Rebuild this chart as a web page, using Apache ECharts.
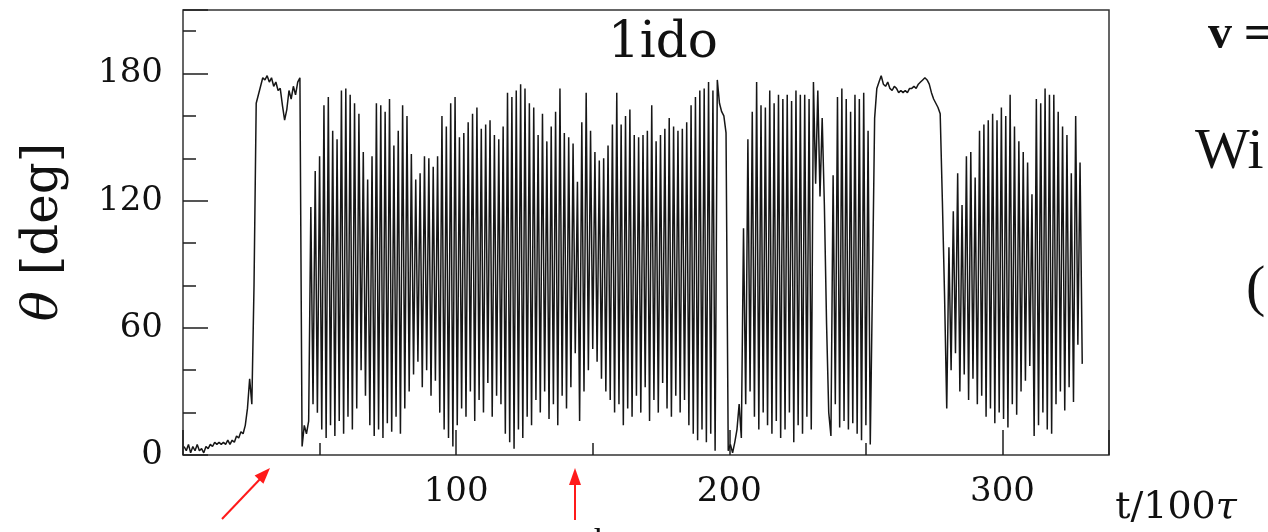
<!DOCTYPE html>
<html>
<head>
<meta charset="utf-8">
<script src="https://cdn.jsdelivr.net/npm/echarts@6/dist/echarts.min.js"></script>
<style>
  html, body { margin: 0; padding: 0; background: #fff; }
  #chart { width: 1268px; height: 532px; }
</style>
</head>
<body>
<div id="chart"></div>
<script>
// theta(t), sampled every tStep (t in units of 100 tau)
var tStart = 0.4;
var tStep = 0.8;

// baseline, rise, first plateau, drop (t 0.4 - 46.0)
var thetaLeadIn = [
  4, 2, 5, 1, 4, 2, 5, 2, 3, 1,
  4, 3, 5, 4, 6, 5, 6, 5, 6, 5,
  7, 5, 7, 6, 9, 8, 11,
  10, 14, 22, 36, 24,
  80, 166, 170, 174, 178, 177, 179, 176, 178, 174,
  176, 172, 173, 165, 158, 163, 172, 168, 174, 170,
  176, 178,
  4, 14, 10, 16
];
// t 46.8 - 115.6
var thetaOsc1 = [
  117, 24, 134, 20, 141, 12, 165, 8, 169, 14,
  153, 9, 149, 16, 172, 10, 173, 18, 170, 12,
  166, 22, 161, 40, 143, 28, 130, 14, 141, 9,
  166, 12, 165, 8, 162, 15, 168, 11, 146, 18,
  153, 10, 165, 22, 160, 30, 142, 38, 130, 44,
  133, 32, 141, 40, 140, 28, 136, 35, 141, 20,
  160, 12, 155, 8, 166, 4, 169, 14, 150, 22,
  152, 18, 157, 30, 161, 16, 164, 26, 154, 20,
  156, 34, 158, 18, 151, 28, 149
];
// t 116.4 - 189.2
var thetaOsc2 = [
  24, 155, 10, 171, 6, 169, 3, 172, 12, 175,
  8, 173, 18, 166, 14, 164, 26, 151, 20, 161,
  30, 148, 17, 155, 24, 162, 14, 173, 28, 152,
  22, 150, 32, 147, 48, 129, 16, 157, 30, 171,
  40, 153, 50, 143, 44, 139, 36, 140, 30, 146,
  26, 156, 20, 171, 24, 156, 14, 160, 22, 163,
  18, 151, 28, 150, 20, 151, 32, 153, 16, 165,
  26, 148, 20, 151, 34, 154, 22, 159, 18, 155,
  28, 153, 20, 154, 26, 157, 14, 165, 10, 169,
  7, 172
];
// t 190.0 - 252.4
var thetaOsc3 = [
  12, 173, 6, 176, 10, 172, 2, 177, 166, 162,
  160, 152, 2, 5, 1, 6, 12, 24, 8, 107,
  24, 149, 30, 162, 18, 176, 12, 165, 20, 164,
  14, 172, 10, 166, 16, 170, 8, 168, 12, 170,
  20, 167, 6, 172, 14, 170, 10, 170, 18, 168,
  12, 176, 128, 172, 122, 159, 118, 62, 20, 9,
  132, 24, 169, 13, 173, 16, 168, 12, 162, 15,
  170, 10, 168, 7, 171, 14, 153, 5, 80
];
// second plateau and last burst (t 253.2 - 329.2)
var thetaOsc4 = [
  159, 173, 176, 179, 175, 174, 176, 173, 172, 174,
  173, 171, 172, 171, 172, 171, 173, 173, 174, 173,
  175, 176, 177, 178, 177, 175, 171, 168, 166, 164,
  161, 120, 75, 22, 98, 40, 115, 48, 133, 30,
  118, 38, 141, 26, 143, 36, 131, 24, 153, 28,
  156, 18, 158, 22, 161, 15, 158, 20, 164, 17,
  160, 13, 170, 24, 155, 19, 148, 30, 143, 35,
  138, 42, 123, 9, 168, 14, 166, 20, 173, 12,
  170, 10, 170, 24, 162, 30, 155, 21, 151, 32,
  133, 25, 160, 52, 138, 43
];

var xLabels = [100, 200, 300];
var yLabels = [0, 60, 120, 180];

var theta = [].concat(thetaLeadIn, thetaOsc1, thetaOsc2, thetaOsc3, thetaOsc4);
var points = theta.map(function (v, i) {
  return [+(tStart + i * tStep).toFixed(1), v];
});

var ink = '#1e1e1e';
var numFont = { fontFamily: 'DejaVu Serif', fontSize: 34, color: '#111' };

var option = {
  animation: false,
  backgroundColor: '#fff',
  grid: {
    left: 183, right: 159, top: 10, bottom: 77,
    show: true, borderColor: '#333', borderWidth: 1.5, backgroundColor: 'transparent'
  },
  xAxis: [
    {
      type: 'value', min: 0, max: 339, interval: 100,
      axisLine: { show: false },
      axisTick: { inside: true, length: 25, lineStyle: { color: ink, width: 1.5 } },
      axisLabel: Object.assign({
        margin: 20,
        formatter: function (v) { return xLabels.indexOf(v) >= 0 ? String(v) : ''; }
      }, numFont),
      splitLine: { show: false }
    },
    {
      type: 'value', min: 0, max: 339, interval: 50, position: 'bottom',
      axisLine: { show: false },
      axisTick: { inside: true, length: 12, lineStyle: { color: ink, width: 1.5 } },
      axisLabel: { show: false },
      splitLine: { show: false }
    }
  ],
  yAxis: [
    {
      type: 'value', min: 0, max: 210, interval: 60,
      axisLine: { show: false },
      axisTick: { inside: true, length: 25, lineStyle: { color: ink, width: 1.5 } },
      axisLabel: Object.assign({
        margin: 20,
        formatter: function (v) { return yLabels.indexOf(v) >= 0 ? String(v) : ''; }
      }, numFont),
      splitLine: { show: false }
    },
    {
      type: 'value', min: 0, max: 210, interval: 20, position: 'left',
      axisLine: { show: false },
      axisTick: { inside: true, length: 13, lineStyle: { color: ink, width: 1.5 } },
      axisLabel: { show: false },
      splitLine: { show: false }
    }
  ],
  series: [{
    type: 'line',
    data: points,
    xAxisIndex: 0,
    yAxisIndex: 0,
    showSymbol: false,
    sampling: null,
    lineStyle: { color: '#161616', width: 1.5 }
  }],
  graphic: [
    {
      type: 'text', x: 663, y: 44,
      style: { text: '1ido', font: '50px "DejaVu Serif"', fill: '#111', align: 'center', verticalAlign: 'middle' }
    },
    {
      type: 'text', x: 44, y: 232, rotation: Math.PI / 2,
      style: {
        text: '{i|θ} [deg]', font: '50px "DejaVu Serif"', fill: '#111', align: 'center', verticalAlign: 'middle',
        rich: { i: { fontFamily: 'DejaVu Serif', fontStyle: 'italic', fontSize: 50 } }
      }
    },
    {
      type: 'text', x: 1176, y: 508,
      style: {
        text: 't/100{i|τ}', font: '38px "DejaVu Serif"', fill: '#111', align: 'center', verticalAlign: 'middle',
        rich: { i: { fontFamily: 'DejaVu Serif', fontStyle: 'italic', fontSize: 38 } }
      }
    },
    {
      type: 'text', x: 1208, y: 36,
      style: { text: 'v =', font: 'bold 48px "Liberation Serif"', fill: '#111', align: 'left', verticalAlign: 'middle' }
    },
    {
      type: 'text', x: 1195, y: 153,
      style: { text: 'Wi', font: '58px "Liberation Serif"', fill: '#111', align: 'left', verticalAlign: 'middle' }
    },
    {
      type: 'text', x: 1246, y: 290,
      style: { text: '(', font: '58px "Liberation Serif"', fill: '#111', align: 'left', verticalAlign: 'middle' }
    },
    {
      type: 'text', x: 556, y: 526,
      style: { text: 't  th', font: '36px "Liberation Serif"', fill: '#111', align: 'left', verticalAlign: 'top' }
    },
    // red arrows below the axis
    { type: 'line', shape: { x1: 222, y1: 519, x2: 262, y2: 477 }, style: { stroke: '#ff1a1a', lineWidth: 2 } },
    { type: 'polygon', shape: { points: [[270, 468], [263.4, 483.7], [254.6, 475.5]] }, style: { fill: '#ff1a1a' } },
    { type: 'line', shape: { x1: 575, y1: 520, x2: 575, y2: 482 }, style: { stroke: '#ff1a1a', lineWidth: 2 } },
    { type: 'polygon', shape: { points: [[575, 468], [581, 485], [569, 485]] }, style: { fill: '#ff1a1a' } }
  ]
};

var chart = echarts.init(document.getElementById('chart'), null, { renderer: 'canvas' });
chart.setOption(option);
</script>
</body>
</html>
